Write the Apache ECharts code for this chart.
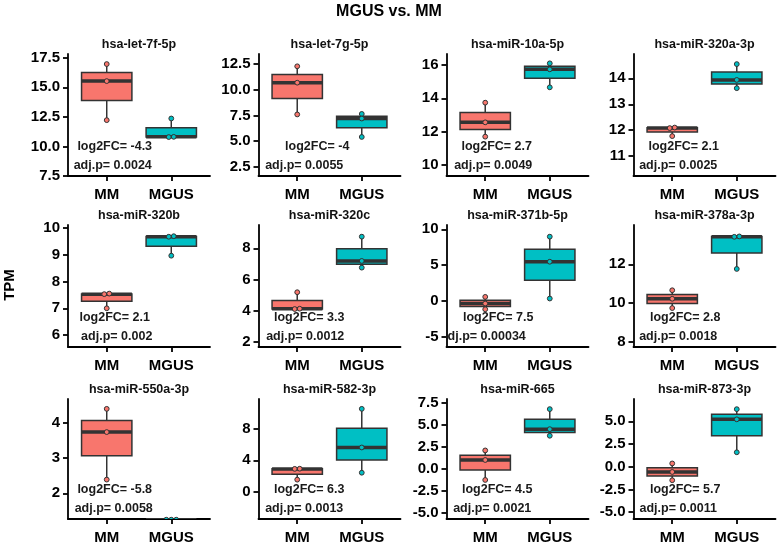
<!DOCTYPE html>
<html><head><meta charset="utf-8">
<script src="https://cdn.jsdelivr.net/npm/echarts@6/dist/echarts.min.js"></script>
<style>html,body{margin:0;padding:0;background:#fff}#c{width:778px;height:545px}</style>
</head><body><div id="c"></div>
<script>
// ---------- data ----------
const groups = ['MM', 'MGUS'];
const panelTitles = ['hsa-let-7f-5p','hsa-let-7g-5p','hsa-miR-10a-5p','hsa-miR-320a-3p',
  'hsa-miR-320b','hsa-miR-320c','hsa-miR-371b-5p','hsa-miR-378a-3p',
  'hsa-miR-550a-3p','hsa-miR-582-3p','hsa-miR-665','hsa-miR-873-3p'];
const mmValues = [
  [16.96, 15.52, 12.22], [12.3, 10.7, 7.6], [13.74, 12.56, 11.7], [12.1, 12.08, 11.77],
  [7.55, 7.53, 7.0], [5.18, 4.12, 4.1], [0.56, -0.37, -1.17], [10.66, 10.22, 9.74],
  [4.4, 3.74, 2.39], [2.93, 2.91, 1.54], [2.13, 1.04, -1.23], [0.36, -0.58, -1.49]
];
const mgusValues = [
  [12.36, 10.81, 10.79], [7.65, 7.2, 5.4], [16.1, 15.74, 14.66], [14.55, 13.94, 13.62],
  [9.7, 9.68, 8.97], [8.75, 7.19, 6.76], [8.97, 5.47, 0.33], [13.44, 13.42, 11.76],
  [1.25, 1.25, 1.25], [10.54, 5.63, 2.42], [6.83, 4.55, 3.8], [6.34, 5.22, 1.59]
];
const log2FC = ['-4.3','-4','2.7','2.1','2.1','3.3','7.5','2.8','-5.8','6.3','4.5','5.7'];
const adjP = ['0.0024','0.0055','0.0049','0.0025','0.002','0.0012','0.00034','0.0018','0.0058','0.0013','0.0021','0.0011'];
const yMin = [7.5, 1.59, 9.34, 10.23, 5.55, 1.66, -6.44, 7.73, 1.27, -3.46, -5.67, -5.76];
const yMax = [17.81, 13.5, 16.66, 14.94, 10.12, 9.5, 10.6, 14.03, 4.68, 11.79, 7.98, 7.46];
const yTicks = [
  [7.5,10,12.5,15,17.5], [2.5,5,7.5,10,12.5], [10,12,14,16], [11,12,13,14],
  [6,7,8,9,10], [2,4,6,8], [-5,0,5,10], [8,10,12],
  [2,3,4], [0,4,8], [-5,-2.5,0,2.5,5,7.5], [-5,-2.5,0,2.5,5]
];
const yDecimals = [1,1,0,0,0,0,0,0,0,0,1,1];

// ---------- layout ----------
const colLeft = [68, 258.5, 446.5, 633.5];
const rowTop = [54, 225, 399];
const GW = 142, GH = 122;
const XMIN = 0.4, XMAX = 2.6;
const BOX_W = 0.78;
const COLORS = ['#F8766D', '#00BFC4'];
const FONT = '"Liberation Sans", Arial, Helvetica, sans-serif';
const log2Dx = [8,20,11.5,11.5, 8,12,13,13, 8,12,12,13];
const adjDx = [6,7,8,6, 10,8,-2,6, 7,7,7,6];

function boxStats(vals) {
  const s = vals.slice().sort((a, b) => a - b);
  return [s[0], (s[0] + s[1]) / 2, s[1], (s[1] + s[2]) / 2, s[2]];
}
function dodge(vals, i, xc) {
  const pxPerUnit = GH / (yMax[i] - yMin[i]);
  const xPx = GW / (XMAX - XMIN);
  const idx = vals.map((v, k) => k).sort((a, b) => vals[a] - vals[b]);
  const out = new Array(vals.length);
  let k = 0;
  while (k < idx.length) {
    let j = k;
    while (j + 1 < idx.length && (vals[idx[j + 1]] - vals[idx[j]]) * pxPerUnit < 4) j++;
    const n = j - k + 1;
    for (let m = k; m <= j; m++) {
      out[idx[m]] = [xc + ((m - k) - (n - 1) / 2) * 5 / xPx, vals[idx[m]]];
    }
    k = j + 1;
  }
  return out;
}

function renderBox(params, api) {
  const x = api.value(0);
  const lo = api.coord([x, api.value(1)]);
  const q1 = api.coord([x, api.value(2)]);
  const md = api.coord([x, api.value(3)]);
  const q3 = api.coord([x, api.value(4)]);
  const hi = api.coord([x, api.value(5)]);
  const w = api.size([BOX_W, 0])[0];
  const fill = COLORS[api.value(6)];
  const st = '#333';
  return {type: 'group', children: [
    {type: 'line', shape: {x1: lo[0], y1: lo[1], x2: q1[0], y2: q1[1]}, style: {stroke: st, lineWidth: 1.5}},
    {type: 'line', shape: {x1: q3[0], y1: q3[1], x2: hi[0], y2: hi[1]}, style: {stroke: st, lineWidth: 1.5}},
    {type: 'rect', shape: {x: q1[0] - w / 2, y: q3[1], width: w, height: q1[1] - q3[1]}, style: {fill: fill, stroke: st, lineWidth: 1.5}},
    {type: 'line', shape: {x1: md[0] - w / 2, y1: md[1], x2: md[0] + w / 2, y2: md[1]}, style: {stroke: st, lineWidth: 3.5}}
  ]};
}
function renderPoint(params, api) {
  const p = api.coord([api.value(0), api.value(1)]);
  return {type: 'circle', shape: {cx: p[0], cy: p[1], r: 2.4},
    style: {fill: COLORS[api.value(2)], stroke: '#333', lineWidth: 1}};
}

const grids = [], xAxes = [], yAxes = [], series = [], graphics = [];
for (let i = 0; i < 12; i++) {
  const r = Math.floor(i / 4), c = i % 4;
  grids.push({left: colLeft[c], top: rowTop[r], width: GW, height: GH, containLabel: false});
  xAxes.push({
    type: 'value', gridIndex: i, min: XMIN, max: XMAX,
    axisLine: {show: true, onZero: false, lineStyle: {color: '#000', width: 1.8}},
    axisTick: {show: true, customValues: [1, 2], length: 5, lineStyle: {color: '#000', width: 1.8}},
    axisLabel: {show: true, customValues: [1, 2], formatter: v => groups[Math.round(v) - 1],
      fontSize: 15, fontWeight: 'bold', color: '#000', margin: 11, fontFamily: FONT},
    splitLine: {show: false}
  });
  const dec = yDecimals[i];
  yAxes.push({
    type: 'value', gridIndex: i, min: yMin[i], max: yMax[i],
    axisLine: {show: true, onZero: false, lineStyle: {color: '#000', width: 1.8}},
    axisTick: {show: true, customValues: yTicks[i], length: 5, lineStyle: {color: '#000', width: 1.8}},
    axisLabel: {show: true, customValues: yTicks[i], formatter: v => Number(v).toFixed(dec),
      fontSize: 15, fontWeight: 'bold', color: '#000', margin: 8, fontFamily: FONT},
    splitLine: {show: false}
  });
  const boxData = [mmValues[i], mgusValues[i]].map((vals, g) => [g + 1].concat(boxStats(vals), [g]));
  series.push({type: 'custom', xAxisIndex: i, yAxisIndex: i, renderItem: renderBox, data: boxData, clip: true, silent: true});
  const pts = [];
  [mmValues[i], mgusValues[i]].forEach((vals, g) => {
    dodge(vals, i, g + 1).forEach(p => pts.push([p[0], p[1], g]));
  });
  series.push({type: 'custom', xAxisIndex: i, yAxisIndex: i, renderItem: renderPoint, data: pts, clip: true, silent: true, z: 3});
  const yb = yMin[i];
  series.push({
    type: 'custom', xAxisIndex: i, yAxisIndex: i, clip: true, silent: true, z: 4,
    data: [[1, yb]],
    renderItem: (params, api) => {
      const p = api.coord([api.value(0), api.value(1)]);
      const base = {fill: '#1a1a1a', font: 'bold 12.5px ' + FONT, align: 'center', verticalAlign: 'middle'};
      return {type: 'group', children: [
        {type: 'text', x: p[0] + log2Dx[i], y: p[1] - 29, style: Object.assign({text: 'log2FC= ' + log2FC[i]}, base)},
        {type: 'text', x: p[0] + adjDx[i], y: p[1] - 10, style: Object.assign({text: 'adj.p= ' + adjP[i]}, base)}
      ]};
    }
  });
  graphics.push({type: 'text', x: colLeft[c] + GW / 2, y: rowTop[r] - 9,
    style: {text: panelTitles[i], font: 'bold 12.5px ' + FONT, fill: '#111', align: 'center', verticalAlign: 'middle'}});
}
graphics.push({type: 'text', x: 389, y: 12,
  style: {text: 'MGUS vs. MM', font: 'bold 16px ' + FONT, fill: '#000', align: 'center', verticalAlign: 'middle'}});
graphics.push({type: 'text', x: 10, y: 285, rotation: Math.PI / 2,
  style: {text: 'TPM', font: 'bold 15px ' + FONT, fill: '#000', align: 'center', verticalAlign: 'middle'}});

const chart = echarts.init(document.getElementById('c'), null, {renderer: 'canvas'});
chart.setOption({
  animation: false,
  backgroundColor: '#fff',
  grid: grids, xAxis: xAxes, yAxis: yAxes, series: series, graphic: graphics
});
</script></body></html>
